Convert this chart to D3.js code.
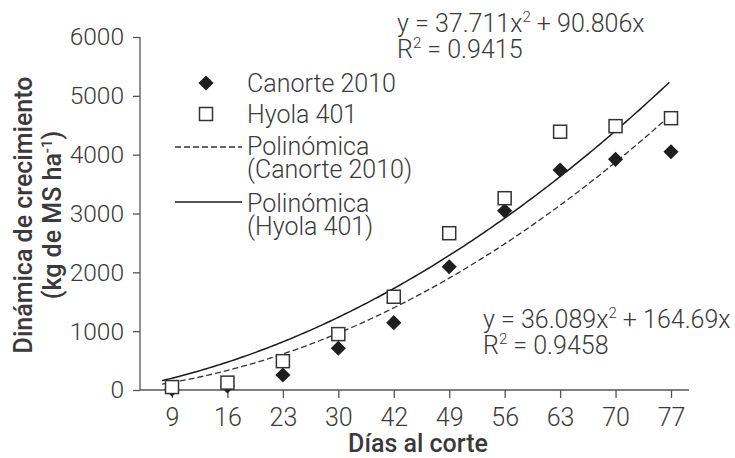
<!DOCTYPE html>
<html>
<head>
<meta charset="utf-8">
<script src="https://cdn.jsdelivr.net/npm/d3@7"></script>
<style>
  body { margin: 0; background: #fff; }
  svg text { font-family: Roboto, "Noto Sans", sans-serif; fill: #3a3a3a; }
</style>
</head>
<body>
<div id="chart"></div>
<script>
// data
var dias = ["9", "16", "23", "30", "42", "49", "56", "63", "70", "77"];
var canorte = [15, 70, 255, 710, 1145, 2095, 3045, 3740, 3920, 4050];
var hyola = [50, 125, 490, 950, 1585, 2665, 3260, 4390, 4485, 4620];
var yTicks = [0, 1000, 2000, 3000, 4000, 5000, 6000];

// trend line coefficients (a*x^2 + b*x, x = cut index 1..10)
var coefSolid = [36.089, 164.69];
var coefDashed = [37.711, 90.806];
var trendFrom = 0.82, trendTo = 10;

var width = 735, height = 458;
var plotLeft = 140, plotRight = 689, plotTop = 37, plotBottom = 390;

var svg = d3.select("#chart")
  .append("svg")
  .attr("width", width)
  .attr("height", height);

// scales
var x = d3.scalePoint()
  .domain(dias)
  .range([172, 671]);
var xi = d3.scaleLinear()
  .domain([1, dias.length])
  .range([x(dias[0]), x(dias[dias.length - 1])]);
var y = d3.scaleLinear()
  .domain([0, 6000])
  .range([plotBottom, plotTop]);

// y axis
var yAxis = svg.append("g")
  .attr("transform", "translate(" + plotLeft + ",0)")
  .call(d3.axisLeft(y).tickValues(yTicks).tickSize(7).tickPadding(9).tickFormat(d3.format("d")));
yAxis.selectAll("line, path").attr("stroke", "#555").attr("stroke-width", 1.3);
yAxis.selectAll("text")
  .style("font-size", "24.5px")
  .style("font-weight", 300)
  .attr("fill", "#3a3a3a");
yAxis.select(".domain").attr("d", "M0," + plotTop + "V" + plotBottom);

// x axis
var xAxis = svg.append("g")
  .attr("transform", "translate(0," + plotBottom + ")")
  .call(d3.axisBottom(x).tickSize(8).tickPadding(10));
xAxis.selectAll("line, path").attr("stroke", "#555").attr("stroke-width", 1.3);
xAxis.select(".domain").attr("d", "M" + plotLeft + ",0H" + plotRight);
xAxis.selectAll("text")
  .style("font-size", "25px")
  .style("font-weight", 300)
  .attr("fill", "#3a3a3a");

// axis titles
svg.append("text")
  .attr("x", 418)
  .attr("y", 452)
  .attr("text-anchor", "middle")
  .style("font-size", "25px")
  .style("font-weight", 500)
  .attr("fill", "#2b2b2b")
  .text("Días al corte");

var yTitle = svg.append("text")
  .attr("transform", "translate(0,215) rotate(-90)")
  .attr("text-anchor", "middle")
  .style("font-size", "25px")
  .style("font-weight", 500)
  .attr("fill", "#2b2b2b");
yTitle.append("tspan").attr("x", 0).attr("y", 32).text("Dinámica de crecimiento");
var t2 = yTitle.append("tspan").attr("x", 0).attr("y", 61);
t2.append("tspan").text("(kg de MS ha");
t2.append("tspan").attr("dy", -9).style("font-size", "15px").text("-1");
t2.append("tspan").attr("dy", 9).text(")");

// trend lines
var steps = d3.range(trendFrom, trendTo + 0.001, 0.05);
var line = d3.line()
  .x(function(d) { return xi(d[0]); })
  .y(function(d) { return y(d[1]); })
  .curve(d3.curveMonotoneX);
function curve(c) {
  return steps.map(function(t) { return [t, c[0] * t * t + c[1] * t]; });
}
svg.append("path")
  .attr("d", line(curve(coefSolid)))
  .attr("fill", "none")
  .attr("stroke", "#1a1a1a")
  .attr("stroke-width", 1.5);
svg.append("path")
  .attr("d", line(curve(coefDashed)))
  .attr("fill", "none")
  .attr("stroke", "#333")
  .attr("stroke-width", 1.3)
  .attr("stroke-dasharray", "6,3");

// markers
var diamond = d3.symbol().type(d3.symbolSquare).size(115);
svg.selectAll(".can")
  .data(canorte)
  .enter()
  .append("path")
  .attr("class", "can")
  .attr("d", diamond)
  .attr("transform", function(d, i) {
    return "translate(" + x(dias[i]) + "," + y(d) + ") rotate(45)";
  })
  .attr("fill", "#1e1e1e");

svg.selectAll(".hyo")
  .data(hyola)
  .enter()
  .append("rect")
  .attr("class", "hyo")
  .attr("x", function(d, i) { return x(dias[i]) - 6.5; })
  .attr("y", function(d) { return y(d) - 6.5; })
  .attr("width", 13)
  .attr("height", 13)
  .attr("fill", "#fff")
  .attr("stroke", "#333")
  .attr("stroke-width", 1.5);

// legend
var lg = svg.append("g");
lg.append("path")
  .attr("d", diamond)
  .attr("transform", "translate(206,83) rotate(45)")
  .attr("fill", "#1e1e1e");
lg.append("rect")
  .attr("x", 199.5).attr("y", 107.5).attr("width", 13).attr("height", 13)
  .attr("fill", "#fff").attr("stroke", "#333").attr("stroke-width", 1.5);
lg.append("line")
  .attr("x1", 175).attr("x2", 242).attr("y1", 147).attr("y2", 147)
  .attr("stroke", "#333").attr("stroke-width", 1.3).attr("stroke-dasharray", "6,3");
lg.append("line")
  .attr("x1", 175).attr("x2", 242).attr("y1", 202).attr("y2", 202)
  .attr("stroke", "#1a1a1a").attr("stroke-width", 1.5);

var legendText = [
  ["Canorte 2010", 92],
  ["Hyola 401", 123],
  ["Polinómica", 155],
  ["(Canorte 2010)", 178],
  ["Polinómica", 212],
  ["(Hyola 401)", 235]
];
lg.selectAll(".lt")
  .data(legendText)
  .enter()
  .append("text")
  .attr("class", "lt")
  .attr("x", 247)
  .attr("y", function(d) { return d[1]; })
  .style("font-size", "25px")
  .style("font-weight", 300)
  .text(function(d) { return d[0]; });

// equations
function equation(xp, yp, a, b, r2) {
  var t = svg.append("text")
    .attr("x", xp).attr("y", yp)
    .style("font-size", "25px")
    .style("font-weight", 300);
  t.append("tspan").text("y = " + a + "x");
  t.append("tspan").attr("dy", -10).style("font-size", "15px").text("2");
  t.append("tspan").attr("dy", 10).text(" + " + b + "x");
  var r = svg.append("text")
    .attr("x", xp).attr("y", yp + 26)
    .style("font-size", "25px")
    .style("font-weight", 300);
  r.append("tspan").text("R");
  r.append("tspan").attr("dy", -10).style("font-size", "15px").text("2");
  r.append("tspan").attr("dy", 10).text(" = " + r2);
}
equation(397, 32, "37.711", "90.806", "0.9415");
equation(483, 328, "36.089", "164.69", "0.9458");
</script>
</body>
</html>
